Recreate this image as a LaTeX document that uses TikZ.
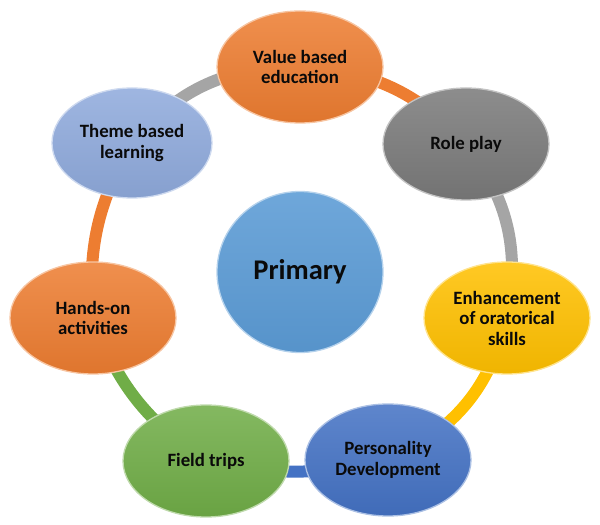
\documentclass[tikz,border=0pt]{standalone}
\usepackage{fontspec}
\setmainfont{Carlito}
\usetikzlibrary{shapes.geometric,backgrounds}
\definecolor{cOrange}{HTML}{ED7D31}
\definecolor{cGray}{HTML}{7A7A7A}
\definecolor{cLGray}{HTML}{A5A5A5}
\definecolor{cGold}{HTML}{FFC000}
\definecolor{cBlue}{HTML}{4472C4}
\definecolor{cLBlue}{HTML}{8FAADC}
\definecolor{cMid}{HTML}{5B9BD5}
\definecolor{cGreen}{HTML}{70AD47}
\definecolor{cText}{HTML}{0A0A0A}
\tikzset{
  bubble/.style={ellipse, minimum width=166pt, minimum height=112pt, inner sep=0pt,
    align=center, text=cText, font=\fontsize{18.8}{20.5}\selectfont\bfseries,
    top color=#1!86!white, bottom color=#1!94!black, draw=#1!45!white, line width=1.3pt},
  hub/.style={ellipse, minimum width=166pt, minimum height=161pt, inner sep=0pt,
    text=cText, font=\fontsize{28.5}{32}\selectfont\bfseries,
    top color=#1!88!white, bottom color=#1!95!black, draw=#1!45!white, line width=1.3pt},
  link/.style={line width=12pt, draw=#1}
}
\begin{document}
\begin{tikzpicture}[x=1pt,y=1pt]
\useasboundingbox (0,0) rectangle (600,525);
\node[hub=cMid] (prim) at (300,253) {Primary};
\node[bubble=cOrange] (val) at (300,458) {Value based\\education};
\node[bubble=cGray] (role) at (466,381) {Role play};
\node[bubble=cGold] (enh) at (507,207) {Enhancement\\of oratorical\\skills};
\node[bubble=cBlue] (pers) at (388,65) {Personality\\Development};
\node[bubble=cGreen] (field) at (206,64) {Field trips};
\node[bubble=cOrange] (hands) at (93,207) {Hands-on\\activities};
\node[bubble=cLBlue, minimum width=160pt, minimum height=110pt] (theme) at (132,382) {Theme based\\learning};
\begin{scope}[on background layer]
\draw[link=cOrange] (val.center) to[bend left=22] (role.center);
\draw[link=cLGray] (role.center) to[bend left=24] (enh.center);
\draw[link=cGold] (enh.center) to[bend left=26] (pers.center);
\draw[link=cBlue] (pers.center) to[bend left=12] (field.center);
\draw[link=cGreen] (field.center) to[bend left=18] (hands.center);
\draw[link=cOrange] (hands.center) to[bend left=17] (theme.center);
\draw[link=cLGray] (theme.center) to[bend left=25] (val.center);
\end{scope}
\end{tikzpicture}
\end{document}
